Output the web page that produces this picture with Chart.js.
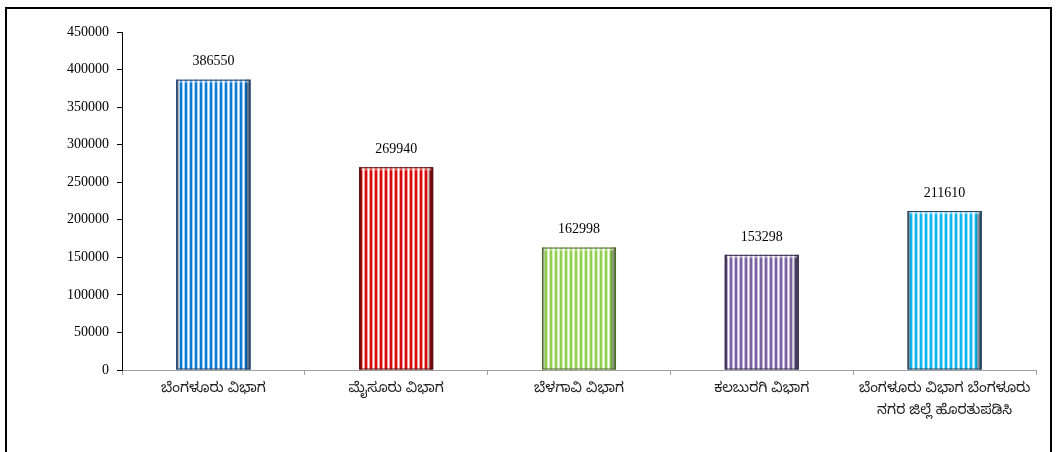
<!DOCTYPE html>
<html>
<head>
<meta charset="utf-8">
<script src="https://cdn.jsdelivr.net/npm/chart.js@4"></script>
<style>
  html, body { margin: 0; padding: 0; background: #fff; overflow: hidden; }
  .frame {
    position: absolute; left: 5px; top: 7px; width: 1047px; height: 470px;
    border: 2px solid #000; box-sizing: border-box;
  }
  .wrap { position: absolute; left: 0; top: 0; width: 1057px; height: 452px; }
</style>
</head>
<body>
<div class="frame"></div>
<div class="wrap"><canvas id="chart" width="1057" height="452"></canvas></div>
<script>
const divisions = [
  "ಬೆಂಗಳೂರು ವಿಭಾಗ",
  "ಮೈಸೂರು ವಿಭಾಗ",
  "ಬೆಳಗಾವಿ ವಿಭಾಗ",
  "ಕಲಬುರಗಿ ವಿಭಾಗ",
  ["ಬೆಂಗಳೂರು ವಿಭಾಗ ಬೆಂಗಳೂರು", "ನಗರ ಜಿಲ್ಲೆ ಹೊರತುಪಡಿಸಿ"]
];
const counts = [386550, 269940, 162998, 153298, 211610];
const yTicks = [0, 50000, 100000, 150000, 200000, 250000, 300000, 350000, 400000, 450000];

// stripe colours: [main, tint, edge]
const barColors = [
  ["#0b7bd6", "#a6d0f2", "#2b3f6a"],
  ["#d80a0a", "#f29a9a", "#5a1010"],
  ["#92d050", "#d2edb6", "#4c6a2a"],
  ["#7a60a2", "#c4b8d8", "#3a2e4e"],
  ["#0cb6ee", "#9fe0f8", "#2d3f5c"]
];

function stripes(c) {
  const p = document.createElement("canvas");
  p.width = 5; p.height = 4;
  const g = p.getContext("2d");
  g.fillStyle = "#ffffff"; g.fillRect(0, 0, 5, 4);
  g.fillStyle = c[0]; g.fillRect(0, 0, 2, 4);
  g.fillStyle = c[1]; g.fillRect(2, 0, 1, 4);
  g.fillStyle = c[1]; g.fillRect(4, 0, 1, 4);
  return g.createPattern(p, "repeat");
}

const bevel = {
  id: "bevel",
  afterDatasetsDraw(chart) {
    const ctx = chart.ctx;
    chart.getDatasetMeta(0).data.forEach((bar, i) => {
      const c = barColors[i];
      const l = bar.x - bar.width / 2, r = bar.x + bar.width / 2;
      const t = bar.y, b = bar.base;
      ctx.save();
      let gr = ctx.createLinearGradient(r - 6, 0, r, 0);
      gr.addColorStop(0, "rgba(0,0,0,0)");
      gr.addColorStop(1, c[2]);
      ctx.fillStyle = gr;
      ctx.fillRect(r - 6, t, 6, b - t);
      gr = ctx.createLinearGradient(l, 0, l + 3, 0);
      gr.addColorStop(0, c[2]);
      gr.addColorStop(1, "rgba(0,0,0,0)");
      ctx.fillStyle = gr;
      ctx.fillRect(l, t, 3, b - t);
      gr = ctx.createLinearGradient(0, t, 0, t + 4);
      gr.addColorStop(0, "rgba(255,255,255,0.9)");
      gr.addColorStop(1, "rgba(255,255,255,0)");
      ctx.fillStyle = gr;
      ctx.fillRect(l + 2, t + 1, bar.width - 4, 4);
      ctx.strokeStyle = c[2];
      ctx.lineWidth = 1;
      ctx.strokeRect(l + 0.5, t + 0.5, bar.width - 1, b - t - 1);
      ctx.restore();
    });
  }
};

const valueLabels = {
  id: "valueLabels",
  afterDatasetsDraw(chart) {
    const ctx = chart.ctx;
    ctx.save();
    ctx.font = "14px 'Liberation Serif', 'Times New Roman', serif";
    ctx.fillStyle = "#000";
    ctx.textAlign = "center";
    ctx.textBaseline = "bottom";
    chart.getDatasetMeta(0).data.forEach((bar, i) => {
      ctx.fillText(String(counts[i]), bar.x, bar.y - 11);
    });
    ctx.restore();
  }
};

new Chart(document.getElementById("chart").getContext("2d"), {
  type: "bar",
  data: {
    labels: divisions,
    datasets: [{
      data: counts,
      backgroundColor: barColors.map(stripes),
      borderWidth: 0,
      barPercentage: 0.405,
      categoryPercentage: 1
    }]
  },
  options: {
    responsive: false,
    animation: false,
    layout: { padding: { top: 32, right: 21, left: 0, bottom: 0 } },
    plugins: { legend: { display: false }, tooltip: { enabled: false } },
    scales: {
      x: {
        offset: true,
        grid: { offset: true, drawOnChartArea: false, tickLength: 5, color: "#a0a0a0" },
        border: { color: "#a0a0a0", width: 1 },
        ticks: {
          color: "#222",
          padding: 4,
          maxRotation: 0,
          font: { family: "'Noto Sans Kannada', 'Noto Sans', sans-serif", size: 14, lineHeight: 1.6 }
        },
        afterFit(s) { s.height = 82; }
      },
      y: {
        min: 0,
        max: 450000,
        afterBuildTicks(s) { s.ticks = yTicks.map(v => ({ value: v })); },
        grid: { drawOnChartArea: false, tickLength: 5, color: "#000" },
        border: { color: "#000", width: 1 },
        ticks: {
          color: "#000",
          padding: 8,
          callback: v => String(v),
          font: { family: "'Liberation Serif', 'Times New Roman', serif", size: 14 }
        },
        afterFit(s) { s.width = 122; }
      }
    }
  },
  plugins: [bevel, valueLabels]
});
</script>
</body>
</html>
